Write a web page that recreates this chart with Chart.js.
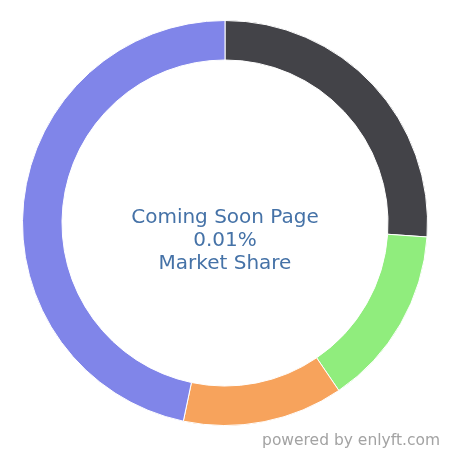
<!DOCTYPE html>
<html>
<head>
<meta charset="utf-8">
<script src="https://cdn.jsdelivr.net/npm/chart.js@4"></script>
<style>
  html, body { margin: 0; padding: 0; background: #ffffff; }
  #wrap { position: relative; width: 450px; height: 450px; overflow: hidden; }
  #c { position: absolute; left: 0; top: 0; }
  #center {
    position: absolute; left: 0; width: 450px; top: 205px;
    text-align: center; font-family: "DejaVu Sans", sans-serif;
    font-size: 20px; line-height: 23px; color: #4572A7;
  }
  #credit {
    position: absolute; right: 10px; top: 433px;
    font-family: "DejaVu Sans", sans-serif; font-size: 15.5px; line-height: 15px;
    color: #a3a3a3; white-space: nowrap;
  }
</style>
</head>
<body>
<div id="wrap">
  <canvas id="c" width="450" height="450"></canvas>
  <div id="center"><div>Coming Soon Page</div><div>0.01%</div><div>Market Share</div></div>
  <div id="credit">powered by enlyft.com</div>
</div>
<script>
const categories = ["Segment A", "Segment B", "Segment C", "Segment D"];
const shares = [26.1, 14.4, 12.8, 46.7];
const colors = ["#434348", "#90ed7d", "#f7a35c", "#8085e9"];

new Chart(document.getElementById("c"), {
  type: "doughnut",
  data: {
    labels: categories,
    datasets: [{
      data: shares,
      backgroundColor: colors,
      borderColor: "#ffffff",
      borderWidth: 1,
      hoverOffset: 0
    }]
  },
  options: {
    responsive: false,
    animation: false,
    cutout: "80.5%",
    layout: { padding: { left: 22, right: 22, top: 20, bottom: 24 } },
    plugins: { legend: { display: false }, tooltip: { enabled: false } }
  }
});
</script>
</body>
</html>
